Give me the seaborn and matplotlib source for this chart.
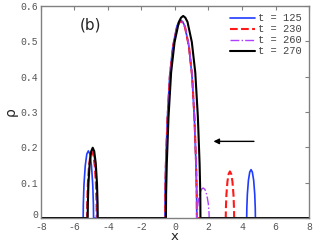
import matplotlib
matplotlib.use("Agg")
import matplotlib.pyplot as plt
import matplotlib.transforms as mtransforms
import seaborn as sns

# t = 125 (blue)
x_t125 = [-8,
          -5.48, -5.471, -5.434, -5.356, -5.263, -5.17, -5.077, -4.984, -4.907, -4.869, -4.86,
          -0.60, -0.591, -0.553, -0.458, -0.315, -0.125, 0.113, 0.231, 0.35, 0.469, 0.588, 0.825, 1.015, 1.158, 1.253, 1.291, 1.30,
          4.28, 4.288, 4.319, 4.384, 4.462, 4.54, 4.618, 4.696, 4.761, 4.792, 4.80,
          8]
y_t125 = [0,
          0, 0.038, 0.093, 0.148, 0.181, 0.19, 0.181, 0.148, 0.093, 0.038, 0,
          0, 0.067, 0.151, 0.28, 0.403, 0.487, 0.543, 0.555, 0.56, 0.555, 0.543, 0.487, 0.403, 0.28, 0.151, 0.067, 0,
          0, 0.027, 0.067, 0.107, 0.130, 0.137, 0.130, 0.107, 0.067, 0.027, 0,
          0]

# t = 230 (red dashed)
x_t230 = [-8,
          -5.25, -5.241, -5.207, -5.134, -5.047, -4.96, -4.873, -4.786, -4.713, -4.679, -4.67,
          -0.59, -0.581, -0.543, -0.448, -0.305, -0.115, 0.123, 0.241, 0.36, 0.479, 0.598, 0.835, 1.025, 1.168, 1.263, 1.301, 1.31,
          3.03, 3.038, 3.068, 3.13, 3.205, 3.28, 3.355, 3.43, 3.493, 3.523, 3.53,
          8]
y_t230 = [0,
          0, 0.038, 0.092, 0.147, 0.179, 0.188, 0.179, 0.147, 0.092, 0.038, 0,
          0, 0.067, 0.15, 0.279, 0.401, 0.485, 0.54, 0.552, 0.557, 0.552, 0.54, 0.485, 0.401, 0.279, 0.15, 0.067, 0,
          0, 0.026, 0.065, 0.103, 0.125, 0.132, 0.125, 0.103, 0.065, 0.026, 0,
          0]

# t = 260 (magenta dash-dot)
x_t260 = [-8,
          -5.23, -5.221, -5.187, -5.114, -5.027, -4.94, -4.853, -4.766, -4.693, -4.659, -4.65,
          -0.58, -0.571, -0.533, -0.438, -0.295, -0.105, 0.133, 0.251, 0.37, 0.489, 0.608, 0.845, 1.035, 1.178, 1.273, 1.311, 1.32,
          1.331, 1.374, 1.464, 1.572, 1.68, 1.788, 1.896, 1.986, 2.029, 2.04,
          8]
y_t260 = [0,
          0, 0.039, 0.095, 0.151, 0.184, 0.194, 0.184, 0.151, 0.095, 0.039, 0,
          0, 0.067, 0.151, 0.279, 0.402, 0.485, 0.541, 0.553, 0.558, 0.553, 0.541, 0.485, 0.402, 0.279, 0.151, 0.067, 0,
          0.017, 0.042, 0.066, 0.081, 0.085, 0.081, 0.066, 0.042, 0.017, 0,
          0]

# t = 270 (black)
x_t270 = [-8,
          -5.21, -5.201, -5.165, -5.09, -5.0, -4.91, -4.82, -4.73, -4.655, -4.619, -4.61,
          -0.54, -0.53, -0.489, -0.386, -0.231, -0.025, 0.233, 0.361, 0.49, 0.619, 0.748, 1.005, 1.211, 1.366, 1.469, 1.51, 1.52,
          8]
y_t270 = [0,
          0, 0.04, 0.098, 0.155, 0.189, 0.199, 0.189, 0.155, 0.098, 0.04, 0,
          0, 0.069, 0.154, 0.286, 0.412, 0.498, 0.555, 0.567, 0.572, 0.567, 0.555, 0.498, 0.412, 0.286, 0.154, 0.069, 0,
          0]

labels = ["t = 125", "t = 230", "t = 260", "t = 270"]
x_ticks = [-8, -6, -4, -2, 0, 2, 4, 6, 8]
y_ticks = [0, 0.1, 0.2, 0.3, 0.4, 0.5, 0.6]
y_tick_labels = ["0", "0.1", "0.2", "0.3", "0.4", "0.5", "0.6"]

sns.set_style("white")
plt.rcParams["font.family"] = ["DejaVu Sans"]
plt.rcParams["axes.unicode_minus"] = False

fig = plt.figure(figsize=(3.15, 2.42), dpi=100)
ax = fig.add_axes([0.130, 0.099, 0.851, 0.876])

series = [
    (x_t125, y_t125, "#1f3cff", "-", 1.2),
    (x_t230, y_t230, "#ff1a1a", "--", 1.5),
    (x_t260, y_t260, "#b040ff", "-.", 1.0),
    (x_t270, y_t270, "black", "-", 1.5),
]
for (xs, ys, col, ls, lw), lab in zip(series, labels):
    sns.lineplot(x=xs, y=ys, ax=ax, color=col, linestyle=ls, linewidth=lw,
                 label=lab, sort=False, estimator=None)

ax.set_xlim(-8, 8)
ax.set_ylim(0, 0.6)
ax.set_xticks(x_ticks)
ax.set_xticklabels([str(v) for v in x_ticks])
ax.set_yticks(y_ticks)
ax.set_yticklabels(y_tick_labels)
for lab in ax.get_xticklabels() + ax.get_yticklabels():
    lab.set_family("Liberation Mono")
    lab.set_fontsize(7)
    lab.set_color("#555555")
ax.tick_params(direction="in", length=3, width=0.8, color="#808080",
               top=True, right=True, pad=2)
ax.tick_params(axis="x", pad=2.5)
# lift the "0" y label a little so it clears "-8"
zero_lab = ax.get_yticklabels()[0]
zero_lab.set_transform(zero_lab.get_transform()
                       + mtransforms.ScaledTranslation(0, 3 / 72, fig.dpi_scale_trans))
for sp in ax.spines.values():
    sp.set_color("#808080")
    sp.set_linewidth(1.0)

ax.set_xlabel("x", fontsize=9.5, labelpad=-1)
ax.set_ylabel("ρ", fontsize=10, labelpad=2)
ax.text(-5.7, 0.535, "(b)", fontsize=11)

ax.annotate("", xy=(2.13, 0.217), xytext=(4.88, 0.217),
            arrowprops=dict(arrowstyle="-|>", color="black", lw=1.0,
                            mutation_scale=8))

leg = ax.legend(loc="upper right", frameon=False,
                prop={"family": "Liberation Mono", "size": 7.5},
                handlelength=2.4, handletextpad=0.3, labelspacing=0.1,
                borderaxespad=0.3)
for t in leg.get_texts():
    t.set_color("#444444")

fig.savefig("out.png", dpi=100)
